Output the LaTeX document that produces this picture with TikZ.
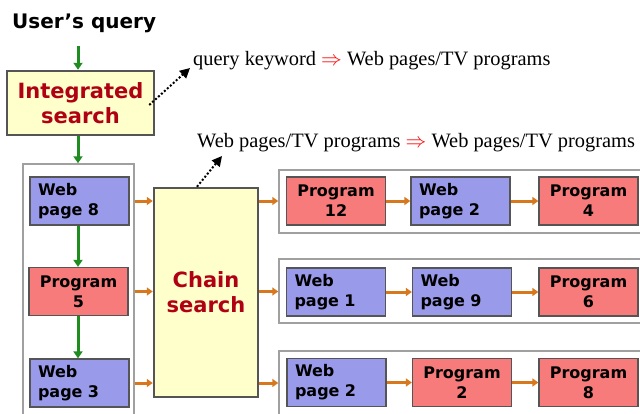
\documentclass[tikz,border=0pt]{standalone}
\usepackage{fontspec}
\setmainfont{Liberation Serif}
\newfontfamily\vfont{DejaVu Sans}
\usetikzlibrary{arrows.meta}
\definecolor{webblue}{HTML}{9A9AEA}
\definecolor{progred}{HTML}{F77B7B}
\definecolor{paleyellow}{HTML}{FFFFCC}
\definecolor{darkred}{HTML}{B00014}
\definecolor{arrgreen}{HTML}{1E8C1E}
\definecolor{arrorange}{HTML}{D8781E}
\definecolor{boxedge}{HTML}{555555}
\definecolor{contedge}{HTML}{A0A0A0}
\tikzset{
  itembox/.style={draw=boxedge, line width=1.3pt, minimum width=99pt, minimum height=48pt,
    inner xsep=8pt, font=\vfont\bfseries\fontsize{16pt}{20pt}\selectfont},
  webbox/.style={itembox, fill=webblue, text width=83pt, align=left},
  progbox/.style={itembox, fill=progred, text width=83pt, align=center},
  yellowbox/.style={draw=boxedge, line width=2.5pt, fill=paleyellow, text=darkred, align=center,
    font=\vfont\bfseries\fontsize{21pt}{25pt}\selectfont},
  container/.style={draw=contedge, line width=1.5pt, fill=white},
  greenarrow/.style={draw=arrgreen, line width=3pt, -{Triangle[width=9pt,length=7pt]}},
  orangearrow/.style={draw=arrorange, line width=3pt, -{Triangle[width=8pt,length=6pt]}},
  dottedarrow/.style={draw=black, line width=2pt, dash pattern=on 2pt off 2pt, -{Triangle[width=10pt,length=10pt]}},
  label/.style={anchor=base west, inner sep=0pt, font=\fontsize{20.4pt}{24pt}\selectfont}
}
\begin{document}
\begin{tikzpicture}[x=1pt,y=-1pt]
\useasboundingbox (0,0) rectangle (640,413);
\clip (0,0) rectangle (640,413);
\fill[white] (0,0) rectangle (640,413);

% title
\node[anchor=base west, inner sep=0pt, font=\vfont\bfseries\fontsize{20pt}{23pt}\selectfont] (title) at (12,28) {User’s query};

% integrated search
\node[yellowbox, minimum width=147pt, minimum height=64pt, inner sep=0pt] (integ) at (80.5,103) {Integrated\\search};

% containers
\node[container, minimum width=111pt, minimum height=260pt, inner sep=0pt] (leftc) at (78.5,294) {};
\node[container, minimum width=381pt, minimum height=63pt, inner sep=0pt] (rc1) at (469.5,201.5) {};
\node[container, minimum width=381pt, minimum height=64pt, inner sep=0pt] (rc2) at (469.5,291) {};
\node[container, minimum width=381pt, minimum height=89pt, inner sep=0pt] (rc3) at (469.5,395.5) {};

% left column
\node[webbox] (wp8) at (79.5,201) {Web\\page 8};
\node[progbox] (p5) at (78.5,291.5) {Program\\5};
\node[webbox] (wp3) at (79.5,383) {Web\\page 3};

% chain search
\node[yellowbox, minimum width=104pt, minimum height=209pt, inner sep=0pt] (chain) at (206,292.5) {Chain\\search};

% rows
\node[progbox] (p12) at (336,201) {Program\\12};
\node[webbox] (wp2) at (460.5,201) {Web\\page 2};
\node[progbox] (p4) at (588.5,201) {Program\\4};

\node[webbox] (wp1) at (336,292) {Web\\page 1};
\node[webbox] (wp9) at (462,292) {Web\\page 9};
\node[progbox] (p6) at (588.5,292) {Program\\6};

\node[webbox] (wp2b) at (336.5,382.5) {Web\\page 2};
\node[progbox] (p2) at (462,382.5) {Program\\2};
\node[progbox] (p8) at (588.5,382.5) {Program\\8};

% labels
\node[label] (lab1) at (193,65) {query keyword \textcolor{red}{$\Rightarrow$} Web pages/TV programs};
\node[label] (lab2) at (197,147) {Web pages/TV programs \textcolor{red}{$\Rightarrow$} Web pages/TV programs};
\coordinate (q1) at (190,68);
\coordinate (q2) at (222,156);

% green arrows
\coordinate (t1) at (78,46);
\draw[greenarrow] (t1) -- (t1 |- integ.north);
\draw[greenarrow] (integ.south -| t1) -- (t1 |- leftc.north);
\draw[greenarrow] (wp8.south -| t1) -- (t1 |- p5.north);
\draw[greenarrow] (p5.south -| t1) -- (t1 |- wp3.north);

% orange arrows
\foreach \b/\r in {wp8/rc1, p5/rc2, wp3/rc3}{
  \draw[orangearrow] (\b -| leftc.east) -- (\b -| chain.west);
  \draw[orangearrow] (\b -| chain.east) -- (\b -| \r.west);
}
\draw[orangearrow] (p12) -- (wp2);
\draw[orangearrow] (wp2) -- (p4);
\draw[orangearrow] (wp1) -- (wp9);
\draw[orangearrow] (wp9) -- (p6);
\draw[orangearrow] (wp2b) -- (p2);
\draw[orangearrow] (p2) -- (p8);

% dotted arrows
\draw[dottedarrow] ([xshift=-6pt,yshift=-2pt]integ.east) -- (q1);
\draw[dottedarrow] ([xshift=-9pt]chain.north) -- (q2);
\end{tikzpicture}
\end{document}
